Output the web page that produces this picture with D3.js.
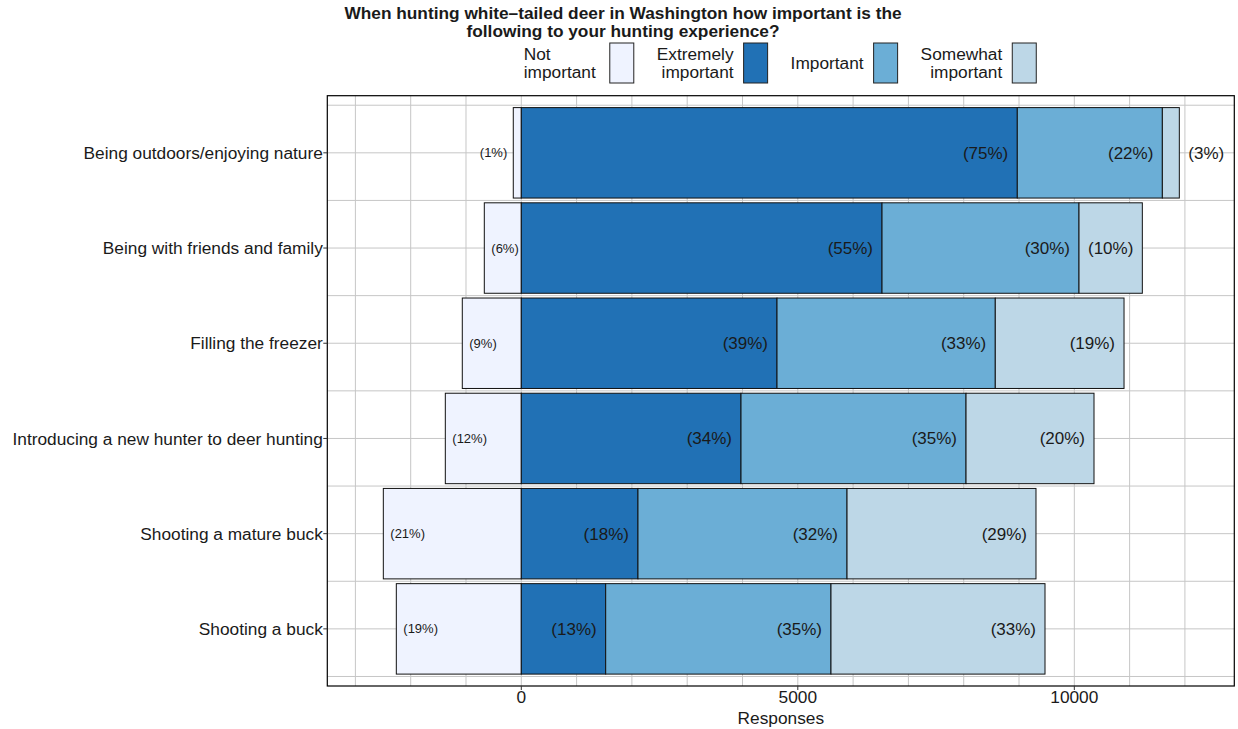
<!DOCTYPE html>
<html><head><meta charset="utf-8">
<script src="https://cdn.jsdelivr.net/npm/d3@7"></script>
<style>
body{margin:0;background:#fff;}
svg text{font-family:"Liberation Sans",Arial,sans-serif;fill:#1a1a1a;}
</style></head>
<body><svg id="chart" width="1238" height="729"></svg>
<script>
const categories = ["Being outdoors/enjoying nature","Being with friends and family","Filling the freezer","Introducing a new hunter to deer hunting","Shooting a mature buck","Shooting a buck"];
const levels = ["Not important","Extremely important","Important","Somewhat important"];
const legendLines = [["Not","important"],["Extremely","important"],["Important"],["Somewhat","important"]];
const colors = ["#eff3ff","#2171b5","#6baed6","#bdd7e7"];
// responses
const notImportant = [145, 669, 1067, 1374, 2495, 2260];
const extremely = [8969, 6523, 4624, 3973, 2110, 1526];
const important = [2623, 3562, 3947, 4069, 3780, 4074];
const somewhat = [307, 1145, 2328, 2314, 3417, 3870];
// percentage labels
const pctNot = [1, 6, 9, 12, 21, 19];
const pctExt = [75, 55, 39, 34, 18, 13];
const pctImp = [22, 30, 33, 35, 32, 35];
const pctSom = [3, 10, 19, 20, 29, 33];
const xTicks = [0, 5000, 10000];
const xGrid = d3.range(-3000, 12001, 1000);
const xDomain = [-3508, 12893];
const title = ["When hunting white\u2013tailed deer in Washington how important is the","following to your hunting experience?"];
const xTitle = "Responses";

const FS = 17.3;
const svg = d3.select("#chart");
const P = {left:327.3, right:1234.3, top:95.7, bottom:686};
const x = d3.scaleLinear().domain(xDomain).range([P.left, P.right]);
const y = d3.scaleBand().domain(categories).range([P.top, P.bottom]).paddingInner(0.05).paddingOuter(0.125);
const unit = y.step();
const cy = c => y(c) + y.bandwidth() / 2;
const barH = y.bandwidth();

// grid
const g = svg.append("g");
g.selectAll(".vg").data(xGrid).enter().append("line")
  .attr("x1", d => x(d)).attr("x2", d => x(d)).attr("y1", P.top).attr("y2", P.bottom)
  .attr("stroke", "#c6c6c6").attr("stroke-width", 1);
const hLines = [];
categories.forEach((c, i) => { hLines.push(cy(c)); hLines.push(cy(c) - unit / 2); });
hLines.push(cy(categories[5]) + unit / 2);
g.selectAll(".hg").data(hLines).enter().append("line")
  .attr("x1", P.left).attr("x2", P.right).attr("y1", d => d).attr("y2", d => d)
  .attr("stroke", "#c6c6c6").attr("stroke-width", 1);

// bars
const series = [notImportant, extremely, important, somewhat];
const pcts = [pctNot, pctExt, pctImp, pctSom];
const segs = [];
categories.forEach((c, i) => {
  segs.push({c, k:0, x0:-notImportant[i], x1:0, p:pctNot[i]});
  let acc = 0;
  for (let k = 1; k < 4; k++) {
    segs.push({c, k, x0:acc, x1:acc + series[k][i], p:pcts[k][i]});
    acc += series[k][i];
  }
});
svg.append("g").selectAll("rect").data(segs).enter().append("rect")
  .attr("x", d => x(d.x0)).attr("width", d => x(d.x1) - x(d.x0))
  .attr("y", d => y(d.c)).attr("height", barH)
  .attr("fill", d => colors[d.k]).attr("stroke", "#111").attr("stroke-width", 1);

// labels
const lab = svg.append("g");
segs.forEach(d => {
  const w = x(d.x1) - x(d.x0);
  const t = lab.append("text").text("(" + d.p + "%)").attr("y", cy(d.c)).attr("dy", "0.35em");
  if (d.k === 0) {
    t.attr("font-size", 13);
    if (w < 30) t.attr("x", x(d.x0) - 6).attr("text-anchor", "end");
    else t.attr("x", x(d.x0) + 7).attr("text-anchor", "start");
  } else {
    t.attr("font-size", 17);
    if (w < 50) t.attr("x", x(d.x1) + 9).attr("text-anchor", "start");
    else t.attr("x", x(d.x1) - 9).attr("text-anchor", "end");
  }
});

// panel border
svg.append("rect").attr("x", P.left).attr("y", P.top).attr("width", P.right - P.left).attr("height", P.bottom - P.top)
  .attr("fill", "none").attr("stroke", "#000").attr("stroke-width", 1.2);

// axes
const xa = svg.append("g");
xTicks.forEach(v => {
  xa.append("line").attr("x1", x(v)).attr("x2", x(v)).attr("y1", P.bottom).attr("y2", P.bottom + 4).attr("stroke", "#333");
  xa.append("text").attr("x", x(v)).attr("y", 703).attr("text-anchor", "middle").attr("font-size", FS).text(d3.format("d")(v));
});
svg.append("text").attr("x", (P.left + P.right) / 2).attr("y", 724).attr("text-anchor", "middle").attr("font-size", FS).text(xTitle);
const ya = svg.append("g");
categories.forEach(c => {
  ya.append("line").attr("x1", P.left - 4).attr("x2", P.left).attr("y1", cy(c)).attr("y2", cy(c)).attr("stroke", "#333");
  ya.append("text").attr("x", P.left - 4.5).attr("y", cy(c)).attr("dy", "0.35em").attr("text-anchor", "end").attr("font-size", FS).text(c);
});

// title
svg.append("g").selectAll("text").data(title).enter().append("text")
  .attr("x", 623).attr("y", (d, i) => 19 + i * 18).attr("text-anchor", "middle")
  .attr("font-size", FS).attr("font-weight", "bold").text(d => d);

// legend
const lg = svg.append("g");
const legendAlign = ["start", "end", "end", "end"];
const items = levels.map((l, i) => {
  const gi = lg.append("g");
  const lines = legendLines[i];
  const texts = lines.map((s, j) => gi.append("text").attr("font-size", FS).attr("text-anchor", legendAlign[i])
    .attr("y", lines.length === 1 ? 69 : 60 + j * 18).text(s));
  const tw = d3.max(texts, t => t.node().getComputedTextLength());
  return {gi, texts, tw, i};
});
const keyW = 24, gapTK = 10, gapItem = 23;
const total = d3.sum(items, it => it.tw + gapTK + keyW) + gapItem * (items.length - 1);
let cx = 782 - total / 2;
items.forEach(it => {
  const textEnd = cx + it.tw;
  it.texts.forEach(t => t.attr("x", legendAlign[it.i] === "start" ? cx - 4 : textEnd));
  it.gi.append("rect").attr("x", textEnd + gapTK).attr("y", 43).attr("width", keyW).attr("height", 40)
    .attr("fill", colors[it.i]).attr("stroke", "#222").attr("stroke-width", 1);
  cx = textEnd + gapTK + keyW + gapItem;
});
</script></body></html>
